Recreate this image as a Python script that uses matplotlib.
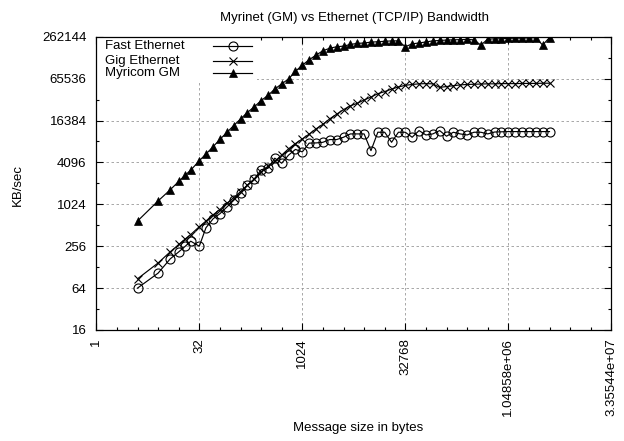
#!/usr/bin/env python3

import matplotlib
matplotlib.use('Agg')
import matplotlib.pyplot as plt
from matplotlib.ticker import FixedLocator, FuncFormatter, NullFormatter
from matplotlib.patches import Rectangle

# message sizes (bytes)
sizes = [4, 8, 12, 16, 20, 24, 32, 40, 51, 64, 81, 102, 128, 161, 203, 256,
         323, 406, 512, 645, 813, 1024, 1290, 1625, 2048, 2580, 3251, 4096,
         5161, 6502, 8192, 10321, 13004, 16384, 20643, 26008, 32768, 41285,
         52016, 65536, 82570, 104032, 131072, 165140, 208064, 262144, 330281,
         416128, 524288, 660561, 832255, 1048576, 1321123, 1664511, 2097152,
         2642246, 3329021, 4194304]

# bandwidth in KB/sec
fast_eth = [64, 105, 168, 212, 256, 302, 256, 471, 635, 750, 936, 1168, 1479,
            1911, 2353, 3214, 3373, 4705, 3983, 5219, 6294, 5793, 7749, 7803,
            7966, 8719, 8719, 9410, 10510, 10510, 10510, 6039, 11110, 11110,
            7966, 11110, 11110, 9410, 11740, 10150, 10510, 11740, 9742, 11110,
            10510, 10150, 11110, 11110, 10510, 11190, 11270, 11350, 11350,
            11350, 11350, 11350, 11350, 11350]

gig_eth = [87, 147, 212, 271, 326, 377, 488, 588, 724, 861, 1060, 1278, 1552,
           1938, 2353, 2998, 3615, 4239, 5219, 6425, 7643, 8902, 10440, 12417,
           14460, 17320, 20170, 23490, 26610, 28920, 32310, 35600, 39780,
           42630, 46340, 49670, 52500, 53970, 55110, 55490, 55110, 48980,
           50360, 51780, 53230, 53970, 54350, 54730, 55110, 55110, 55490,
           55490, 55490, 55870, 55870, 55870, 56260, 56260]

myricom = [588, 1144, 1652, 2180, 2702, 3170, 4330, 5404, 6889, 8780, 11036,
           13873, 17200, 21317, 25700, 31640, 37640, 46340, 55110, 64640,
           83460, 102100, 122300, 142400, 164600, 179000, 187900, 191900,
           202800, 210000, 212900, 218900, 221900, 225000, 228200, 228200,
           187900, 207100, 212900, 220400, 228200, 231400, 234600, 236200,
           237900, 239500, 236200, 198600, 241200, 244600, 244600, 248000,
           249700, 249700, 251500, 253200, 198600, 255000]

series = [
    ('Fast Ethernet', fast_eth, dict(marker='o', ms=6.5, mfc='none', mew=0.8)),
    ('Gig Ethernet', gig_eth, dict(marker='x', ms=6, mew=0.8)),
    ('Myricom GM', myricom, dict(marker='^', ms=5.5, mew=0.5)),
]

x_major = [2**i for i in range(0, 26, 5)]
y_major = [2**i for i in range(4, 19, 2)]


def main():
    plt.rcParams['font.family'] = ['Liberation Sans', 'DejaVu Sans']
    plt.rcParams['font.size'] = 9.5

    fig = plt.figure(figsize=(6.24, 4.41), dpi=100)
    ax = fig.add_axes([96.3 / 624, 1 - 330 / 441, 515 / 624, 293.3 / 441])

    for name, vals, style in series:
        ax.plot(sizes, vals, color='black', lw=0.85, zorder=3, **style)

    ax.set_xscale('log', base=2)
    ax.set_yscale('log', base=2)
    ax.set_xlim(1, 2**25)
    ax.set_ylim(16, 2**18)

    fmt = FuncFormatter(lambda v, p: '%g' % v)
    ax.xaxis.set_major_locator(FixedLocator(x_major))
    ax.xaxis.set_minor_locator(FixedLocator([2**i for i in range(26) if 2**i not in x_major]))
    ax.yaxis.set_major_locator(FixedLocator(y_major))
    ax.yaxis.set_minor_locator(FixedLocator([2**i for i in range(5, 18, 2)]))
    ax.xaxis.set_major_formatter(fmt)
    ax.yaxis.set_major_formatter(fmt)
    ax.xaxis.set_minor_formatter(NullFormatter())
    ax.yaxis.set_minor_formatter(NullFormatter())

    ax.tick_params(which='both', direction='in', top=True, right=True, width=0.8)
    ax.tick_params(which='major', length=5)
    ax.tick_params(which='minor', length=2.5)
    ax.tick_params(axis='x', which='major', pad=6, labelrotation=90)
    ax.tick_params(axis='y', which='major', pad=7)
    for lab in ax.get_xticklabels():
        lab.set_va('top')
        lab.set_ha('center')

    for s in ax.spines.values():
        s.set_linewidth(0.9)

    ax.grid(True, which='major', color='#999999', lw=0.6, ls=(0, (3, 3)), zorder=0)
    ax.set_axisbelow(True)

    # gnuplot-style key: text left, sample right, blanked background
    ax.add_patch(Rectangle((0.002, 0.846), 0.31, 0.152, transform=ax.transAxes,
                           facecolor='white', edgecolor='none', zorder=1))
    rows = [0.969, 0.918, 0.875]
    for (name, vals, style), yy in zip(series, rows):
        ax.text(0.0169, yy, name, transform=ax.transAxes, va='center', ha='left',
                fontsize=9.5, zorder=4)
        ax.plot([0.227, 0.302], [yy, yy], transform=ax.transAxes, color='black',
                lw=0.85, zorder=4, clip_on=False)
        ax.plot([0.266], [yy], transform=ax.transAxes, color='black', lw=0,
                zorder=4, clip_on=False, **style)

    fig.text(355 / 624, 1 - 18 / 441, 'Myrinet (GM) vs Ethernet (TCP/IP) Bandwidth',
             ha='center', va='center', fontsize=9.5)
    fig.text(358 / 624, 1 - 428 / 441, 'Message size in bytes',
             ha='center', va='center', fontsize=9.5)
    fig.text(18 / 624, 1 - 185 / 441, 'KB/sec', rotation=90,
             ha='center', va='center', fontsize=9.5)

    fig.savefig('out.png', dpi=100)


if __name__ == '__main__':
    main()
